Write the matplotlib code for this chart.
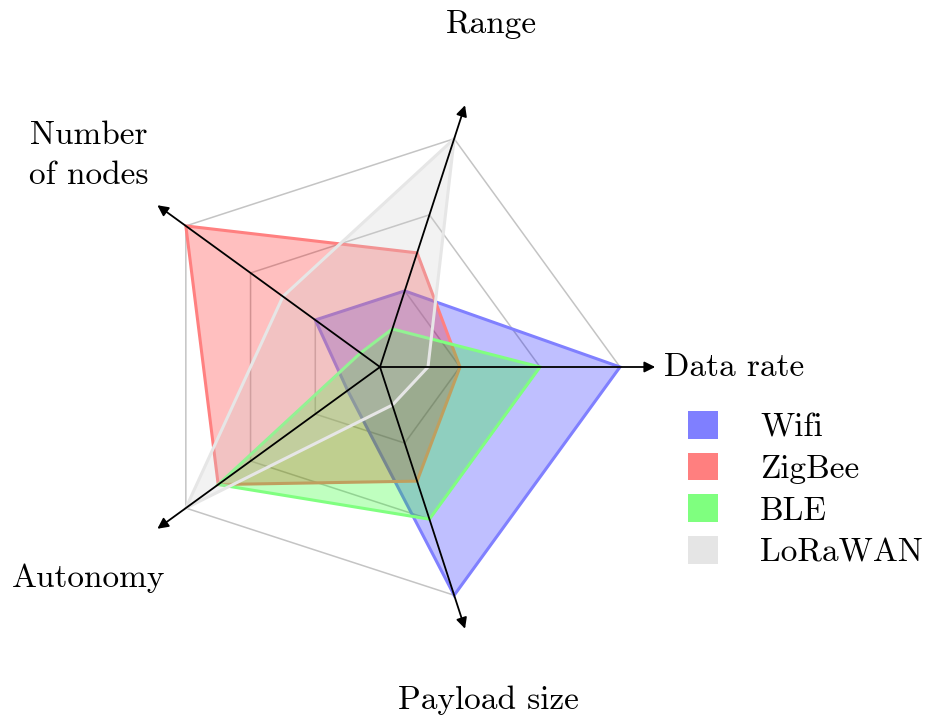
import numpy as np
import matplotlib
matplotlib.use("Agg")
import matplotlib.pyplot as plt
from matplotlib.patches import Patch

axes_labels = ["Data rate", "Range", "Number\nof nodes", "Autonomy", "Payload size"]
wifi = [3, 1, 1, 0.5, 3]
zigbee = [1, 1.5, 3, 2.5, 1.5]
ble = [2, 0.5, 0.3, 2.5, 2]
lorawan = [0.6, 3, 1.5, 3, 0.5]
series = [("Wifi", wifi, "#0000ff", "#8080ff"),
          ("ZigBee", zigbee, "#ff0000", "#ff8080"),
          ("BLE", ble, "#00ff00", "#80ff80"),
          ("LoRaWAN", lorawan, "#cccccc", "#e6e6e6")]
levels = [1, 2, 3]

plt.rcParams['font.family'] = ['cmr10', 'DejaVu Serif']

n = len(axes_labels)
ang = np.deg2rad(np.arange(n) * 360.0 / n)

fig = plt.figure(figsize=(9.28, 7.21), dpi=100)
ax = fig.add_axes([0, 0, 1, 1])
ax.set_xlim(-380 / 80, (928 - 380) / 80)
ax.set_ylim(-(721 - 367) / 80, 367 / 80)
ax.set_aspect('equal')
ax.axis('off')

# grid pentagons
for lv in levels:
    xs = lv * np.cos(ang)
    ys = lv * np.sin(ang)
    ax.fill(xs, ys, facecolor='none', edgecolor='#c4c4c4', lw=1.1, zorder=1)

# data polygons
for k, (name, vals, col, edge) in enumerate(series):
    v = np.array(vals)
    xs = v * np.cos(ang)
    ys = v * np.sin(ang)
    ax.fill(xs, ys, facecolor=col, alpha=0.25, edgecolor='none', zorder=2 + 2 * k)
    ax.fill(xs, ys, facecolor='none', edgecolor=edge, lw=2.2, zorder=3 + 2 * k)

# axes with arrows
for a in ang:
    ax.annotate("", xy=(3.44 * np.cos(a), 3.44 * np.sin(a)), xytext=(0, 0),
                arrowprops=dict(arrowstyle='-|>', lw=1.3, color='black',
                                mutation_scale=16, shrinkA=0, shrinkB=0),
                zorder=20)

# labels
radius = [3.55, 4.5, 4.5, 4.5, 4.38]
for i, (a, lab) in enumerate(zip(ang, axes_labels)):
    if i == 0:
        ax.text(radius[i], 0, lab, ha='left', va='center', fontsize=24)
    else:
        ax.text(radius[i] * np.cos(a), radius[i] * np.sin(a), lab, ha='center',
                va='center', fontsize=24, linespacing=1.45)

handles = [Patch(facecolor=col, alpha=0.5, edgecolor='none') for _, _, col, _ in series]
ax.legend(handles, [s[0] for s in series], loc='upper left',
          bbox_to_anchor=(688 / 928, 1 - 411 / 721), bbox_transform=fig.transFigure,
          frameon=False, fontsize=24, handlelength=0.9, handleheight=0.9,
          handletextpad=1.26, labelspacing=0.31, borderpad=0, borderaxespad=0)

fig.savefig("out.png", dpi=100)
